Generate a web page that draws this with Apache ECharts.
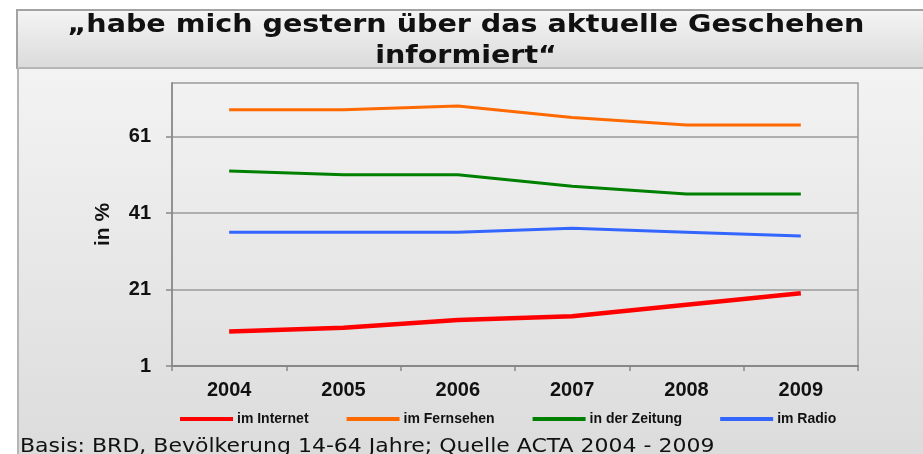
<!DOCTYPE html>
<html>
  <head>
    <meta charset="utf-8" />
    <title>Informiert</title>
    <script src="https://cdn.jsdelivr.net/npm/echarts@6/dist/echarts.min.js"></script>
    <style>
      html, body { margin: 0; padding: 0; background: #fff; }
    </style>
  </head>
  <body>
    <div id="main" style="width: 923px;height: 454px;"></div>
    <script type="text/javascript">
      var years = ['2004', '2005', '2006', '2007', '2008', '2009'];
      var yTicks = [1, 21, 41, 61];
      var internet = [10, 11, 13, 14, 17, 20];
      var fernsehen = [68, 68, 69, 66, 64, 64];
      var zeitung = [52, 51, 51, 48, 46, 46];
      var radio = [36, 36, 36, 37, 36, 35];

      var myChart = echarts.init(document.getElementById('main'));

      function lineSeries(name, data, color, width) {
        return {
          name: name,
          type: 'line',
          data: data,
          symbol: 'none',
          color: color,
          lineStyle: { color: color, width: width },
          emphasis: { disabled: true }
        };
      }

      var option = {
        animation: false,
        backgroundColor: '#ffffff',
        graphic: [
          {
            type: 'rect',
            shape: { x: 17, y: 10, width: 920, height: 58 },
            style: {
              fill: new echarts.graphic.LinearGradient(0, 0, 0, 1, [
                { offset: 0, color: '#f5f5f5' },
                { offset: 1, color: '#dadada' }
              ]),
              stroke: '#a3a3a3',
              lineWidth: 2
            },
            z: -10
          },
          {
            type: 'rect',
            shape: { x: 18, y: 68, width: 920, height: 400 },
            style: {
              fill: new echarts.graphic.LinearGradient(0, 0, 0, 1, [
                { offset: 0, color: '#f3f3f3' },
                { offset: 1, color: '#dbdbdb' }
              ]),
              stroke: '#b5b5b5',
              lineWidth: 2
            },
            z: -10
          },
          {
            type: 'text',
            x: 466,
            y: 10,
            scaleX: 1.19,
            style: {
              text: '\u201ehabe mich gestern \u00fcber das aktuelle Geschehen\ninformiert\u201c',
              align: 'center',
              fontFamily: 'DejaVu Sans, Verdana, sans-serif',
              fontWeight: 'bold',
              fontSize: 24,
              lineHeight: 31,
              fill: '#111'
            }
          },
          {
            type: 'text',
            x: 20,
            y: 437,
            scaleX: 1.1,
            style: {
              text: 'Basis: BRD, Bev\u00f6lkerung 14-64 Jahre; Quelle ACTA 2004 - 2009',
              fontFamily: 'DejaVu Sans, Verdana, sans-serif',
              fontSize: 20,
              fill: '#111'
            }
          }
        ],
        grid: {
          left: 172,
          right: 65,
          top: 83,
          bottom: 88,
          show: true,
          borderColor: '#9a9a9a',
          borderWidth: 1.5,
          backgroundColor: 'transparent'
        },
        legend: {
          left: 180,
          top: 412,
          padding: 0,
          itemWidth: 53,
          itemHeight: 4,
          itemGap: 38,
          icon: 'rect',
          textStyle: {
            fontFamily: 'Liberation Sans, Arial, sans-serif',
            fontWeight: 'bold',
            fontSize: 14,
            color: '#111',
            padding: [0, 0, 0, -1]
          },
          data: ['im Internet', 'im Fernsehen', 'in der Zeitung', 'im Radio']
        },
        xAxis: {
          type: 'category',
          data: years,
          boundaryGap: true,
          axisLine: { lineStyle: { color: '#888', width: 2 } },
          axisTick: { show: true, length: 5, interval: 0, lineStyle: { color: '#888', width: 1.5 } },
          axisLabel: {
            margin: 14,
            fontFamily: 'Liberation Sans, Arial, sans-serif',
            fontWeight: 'bold',
            fontSize: 20,
            color: '#111'
          },
          splitLine: { show: false }
        },
        yAxis: {
          type: 'value',
          min: 1,
          max: 75,
          name: 'in %',
          nameLocation: 'middle',
          nameGap: 58,
          nameRotate: 90,
          nameTextStyle: {
            fontFamily: 'Liberation Sans, Arial, sans-serif',
            fontWeight: 'bold',
            fontSize: 21,
            color: '#111'
          },
          axisLine: { show: true, lineStyle: { color: '#888', width: 1.5 } },
          axisTick: { show: true, length: 6, customValues: yTicks, lineStyle: { color: '#888', width: 1.5 } },
          axisLabel: {
            margin: 21,
            customValues: yTicks,
            fontFamily: 'Liberation Sans, Arial, sans-serif',
            fontWeight: 'bold',
            fontSize: 20,
            color: '#111'
          },
          splitLine: { show: true, lineStyle: { color: '#9a9a9a', width: 1.5 } }
        },
        series: [
          lineSeries('im Internet', internet, '#ff0000', 4.5),
          lineSeries('im Fernsehen', fernsehen, '#ff6a00', 3),
          lineSeries('in der Zeitung', zeitung, '#008000', 3),
          lineSeries('im Radio', radio, '#3366ff', 3)
        ]
      };

      myChart.setOption(option);
    </script>
  </body>
</html>
